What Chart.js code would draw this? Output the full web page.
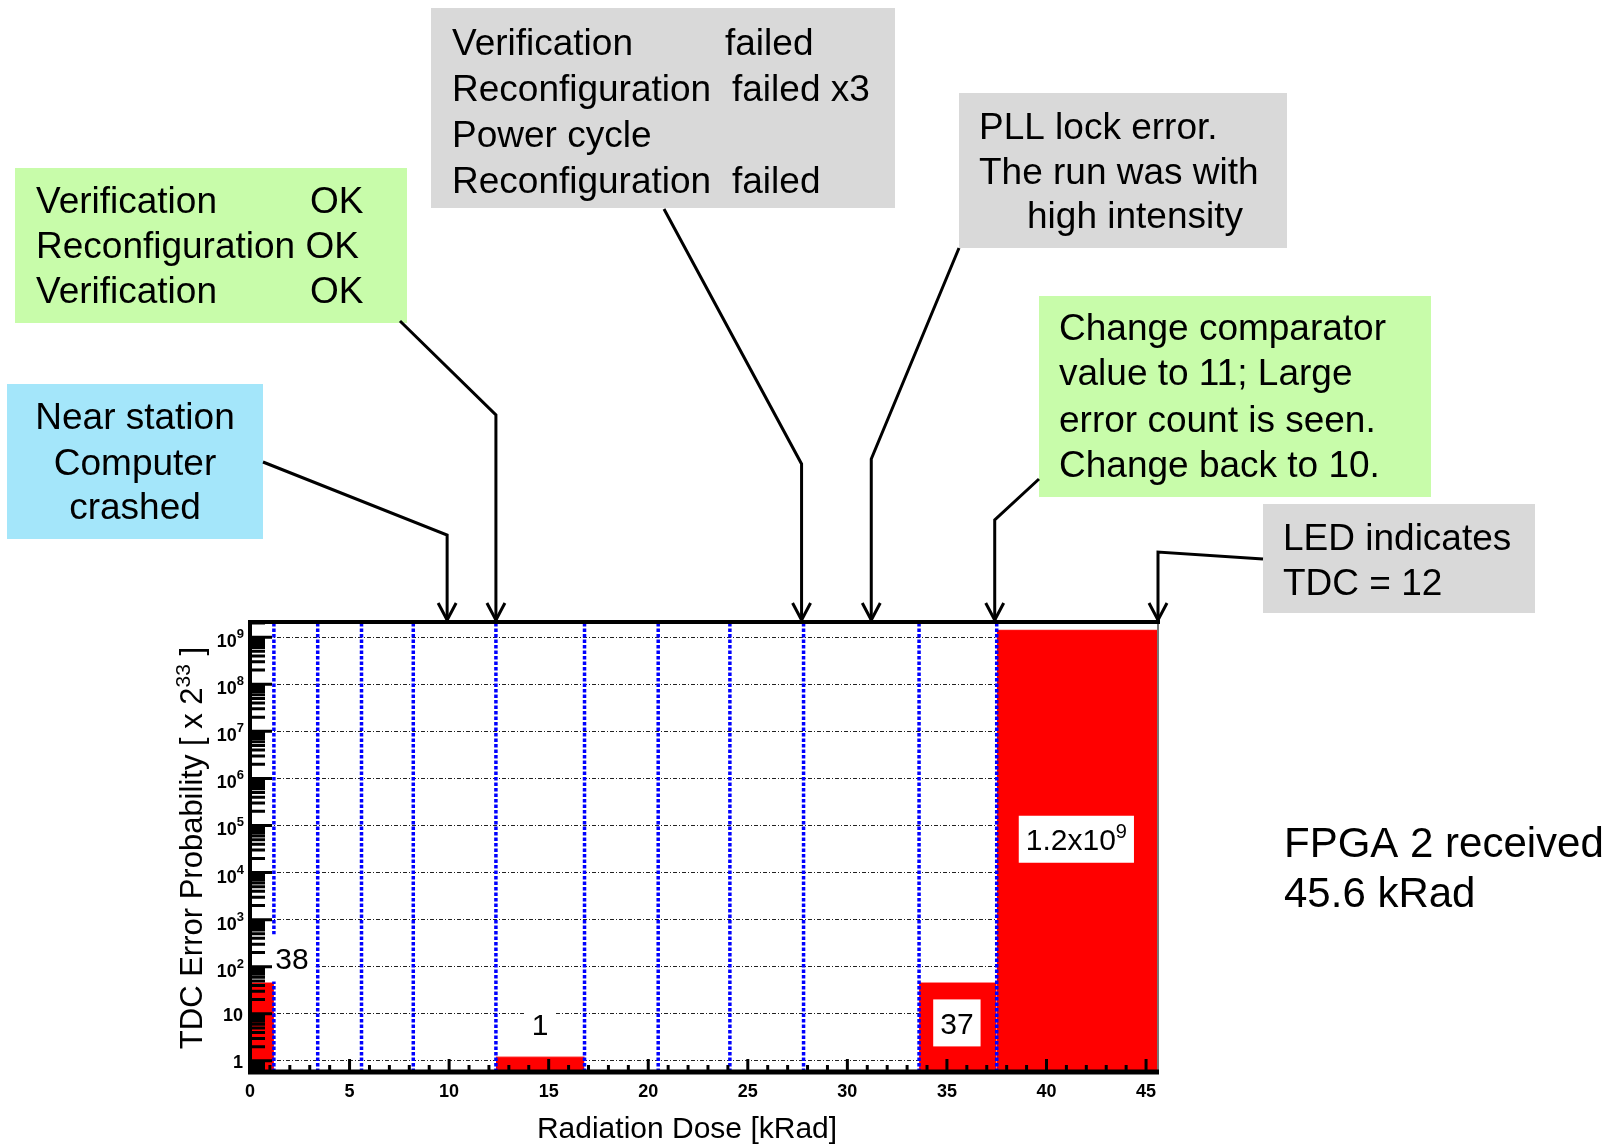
<!DOCTYPE html>
<html>
<head>
<meta charset="utf-8">
<script src="https://cdn.jsdelivr.net/npm/chart.js@4.4.1/dist/chart.umd.min.js"></script>
<style>
  html, body { margin: 0; padding: 0; background: #fff; }
  canvas { display: block; }
</style>
</head>
<body>
<canvas id="chart" width="1608" height="1144"></canvas>
<script>
// histogram bins: dose range [kRad] and error probability [x 2^33]
const binStart = [0, 12.35, 33.6, 37.5];
const binEnd = [1.2, 16.8, 37.5, 45.6];
const binValue = [45, 1.2, 45, 1.4e9];
const binText = ["38", "1", "37", "1.2x10^9"];

// run boundaries (blue dotted lines)
const runEdges = [1.2, 3.4, 5.6, 8.2, 12.35, 16.8, 20.5, 24.1, 27.8, 33.6, 37.5];

// doses where the annotated events happened (arrows)
const eventDose = [9.9, 12.35, 27.7, 31.2, 37.4, 45.6];

const xTickValues = [0, 5, 10, 15, 20, 25, 30, 35, 40, 45];
const yDecades = [1, 1e1, 1e2, 1e3, 1e4, 1e5, 1e6, 1e7, 1e8, 1e9];
const xMin = 0, xMax = 45.6, yMin = 0.58, yMax = 2.1e9;

const FONT = "'Liberation Sans', Arial, sans-serif";

// label placement inside the plot (dose, probability)
const labelSpots = [[2.11, 153], [14.57, 6.1], [35.5, 6.4], [41.5, 5.1e4]];

// annotation boxes
const notes = [
  { rect: [15, 168, 392, 155], fill: "#c8fcaa", texts: [
    ["Verification", 36, 213], ["OK", 310, 213],
    ["Reconfiguration OK", 36, 258],
    ["Verification", 36, 303], ["OK", 310, 303]] },
  { rect: [7, 384, 256, 155], fill: "#a4e6fa", center: 135, texts: [
    ["Near station", 0, 429], ["Computer", 0, 475], ["crashed", 0, 519]] },
  { rect: [431, 8, 464, 200], fill: "#d9d9d9", texts: [
    ["Verification", 452, 55], ["failed", 725, 55],
    ["Reconfiguration", 452, 101], ["failed x3", 732, 101],
    ["Power cycle", 452, 147],
    ["Reconfiguration", 452, 193], ["failed", 732, 193]] },
  { rect: [959, 93, 328, 155], fill: "#d9d9d9", texts: [
    ["PLL lock error.", 979, 139], ["The run was with", 979, 184], ["high intensity", 1027, 228]] },
  { rect: [1039, 296, 392, 201], fill: "#c8fcaa", texts: [
    ["Change comparator", 1059, 340], ["value to 11; Large", 1059, 385],
    ["error count is seen.", 1059, 432], ["Change back to 10.", 1059, 477]] },
  { rect: [1263, 504, 272, 109], fill: "#d9d9d9", texts: [
    ["LED indicates", 1283, 550], ["TDC = 12", 1283, 595]] }
];
// connector start (box edge) and elbow height for each arrow
const arrowFrom = [[263, 462], [400, 321], [664, 209], [959, 248], [1039, 479], [1263, 559]];
const arrowElbowY = [535, 415, 464, 459, 520, 552];

const datasets = [];
binStart.forEach((s, i) => {
  datasets.push({
    data: [{ x: s, y: binValue[i] }, { x: binEnd[i], y: binValue[i] }],
    borderColor: "#ff0000", backgroundColor: "#ff0000", borderWidth: 1,
    fill: "start", pointRadius: 0, order: 2
  });
});
runEdges.forEach(e => {
  datasets.push({
    data: [{ x: e, y: yMin }, { x: e, y: yMax }],
    borderColor: "#0000ff", borderWidth: 3.5, borderDash: [3.5, 2],
    fill: false, pointRadius: 0, order: 1
  });
});

function drawSup(ctx, base, sup, x, y, bf, sf, rise) {
  ctx.font = bf;
  ctx.fillText(base, x, y);
  const w = ctx.measureText(base).width;
  ctx.font = sf;
  ctx.fillText(sup, x + w, y - rise);
  return w + ctx.measureText(sup).width;
}
function supWidth(ctx, base, sup, bf, sf) {
  ctx.font = bf;
  const w = ctx.measureText(base).width;
  ctx.font = sf;
  return w + ctx.measureText(sup).width;
}

const decor = {
  id: "decor",
  afterDatasetsDraw(chart) {
    const { ctx, chartArea: a, scales: { x, y } } = chart;
    ctx.save();
    // value labels with white boxes
    ctx.textBaseline = "alphabetic";
    ctx.fillStyle = "#000";
    binText.forEach((t, i) => {
      const cx = x.getPixelForValue(labelSpots[i][0]);
      const cy = y.getPixelForValue(labelSpots[i][1]);
      const parts = t.split("^");
      const bf = "30px " + FONT, sf = "20px " + FONT;
      const w = parts.length > 1 ? supWidth(ctx, parts[0], parts[1], bf, sf) : (ctx.font = bf, ctx.measureText(t).width);
      ctx.fillStyle = "#fff";
      ctx.fillRect(cx - w / 2 - 7, cy - 23.5, w + 14, 47);
      ctx.fillStyle = "#000";
      if (parts.length > 1) drawSup(ctx, parts[0], parts[1], cx - w / 2, cy + 11, bf, sf, 12);
      else { ctx.font = bf; ctx.fillText(t, cx - w / 2, cy + 11); }
    });

    // inward ticks
    ctx.strokeStyle = "#000";
    ctx.lineWidth = 3;
    ctx.beginPath();
    for (let n = -1; n <= 9; n++) {
      for (let m = 1; m <= 9; m++) {
        const v = m * Math.pow(10, n);
        if (v < yMin || v > yMax) continue;
        const py = y.getPixelForValue(v);
        const len = m === 1 ? 22 : 15;
        ctx.moveTo(a.left, py);
        ctx.lineTo(a.left + len, py);
      }
    }
    for (let d = 1; d <= 45; d++) {
      const px = x.getPixelForValue(d);
      const len = d % 5 === 0 ? 13 : 7;
      ctx.moveTo(px, a.bottom);
      ctx.lineTo(px, a.bottom - len);
    }
    ctx.stroke();

    // frame
    ctx.lineWidth = 2;
    ctx.strokeStyle = "#777";
    ctx.beginPath();
    ctx.moveTo(a.right, a.top);
    ctx.lineTo(a.right, a.bottom);
    ctx.stroke();
    ctx.strokeStyle = "#000";
    ctx.lineWidth = 4;
    ctx.beginPath();
    ctx.moveTo(a.left - 2, a.top);
    ctx.lineTo(a.right + 2, a.top);
    ctx.moveTo(a.left, a.top);
    ctx.lineTo(a.left, a.bottom);
    ctx.stroke();
    ctx.lineWidth = 5;
    ctx.beginPath();
    ctx.moveTo(a.left - 2, a.bottom);
    ctx.lineTo(a.right + 1, a.bottom);
    ctx.stroke();
    ctx.restore();
  },
  afterDraw(chart) {
    const { ctx, chartArea: a, scales: { x, y } } = chart;
    ctx.save();
    ctx.fillStyle = "#000";
    ctx.textBaseline = "alphabetic";

    // y tick labels
    const bf = "bold 18px " + FONT, sf = "bold 13px " + FONT;
    yDecades.forEach((v, n) => {
      const py = y.getPixelForValue(v);
      if (n < 2) {
        ctx.font = bf;
        const t = n === 0 ? "1" : "10";
        ctx.fillText(t, 243 - ctx.measureText(t).width, py + 7);
      } else {
        const w = supWidth(ctx, "10", String(n), bf, sf);
        drawSup(ctx, "10", String(n), 244 - w, py + 10, bf, sf, 9);
      }
    });

    // axis titles
    ctx.font = "30px " + FONT;
    ctx.textAlign = "center";
    ctx.fillText("Radiation Dose [kRad]", 687, 1138);
    ctx.textAlign = "left";
    ctx.save();
    ctx.translate(202, 848);
    ctx.rotate(-Math.PI / 2);
    const tf = "31px " + FONT, tsf = "21px " + FONT;
    ctx.font = tf;
    const w1 = ctx.measureText("TDC Error Probability [ x 2").width;
    ctx.font = tsf;
    const w2 = ctx.measureText("33").width;
    ctx.font = tf;
    const w3 = ctx.measureText(" ]").width;
    let sx = -(w1 + w2 + w3) / 2;
    ctx.fillText("TDC Error Probability [ x 2", sx, 0);
    ctx.font = tsf;
    ctx.fillText("33", sx + w1, -12);
    ctx.font = tf;
    ctx.fillText(" ]", sx + w1 + w2, 0);
    ctx.restore();

    // annotation boxes
    notes.forEach(nt => {
      const [rx, ry, rw, rh] = nt.rect;
      ctx.fillStyle = nt.fill;
      ctx.fillRect(rx, ry, rw, rh);
      ctx.fillStyle = "#000";
      ctx.font = "37px " + FONT;
      nt.texts.forEach(([t, tx, ty]) => {
        if (nt.center) {
          ctx.textAlign = "center";
          ctx.fillText(t, nt.center, ty);
          ctx.textAlign = "left";
        } else ctx.fillText(t, tx, ty);
      });
    });

    // arrows
    ctx.strokeStyle = "#000";
    ctx.lineWidth = 3;
    ctx.lineJoin = "miter";
    const tipY = a.top - 2;
    eventDose.forEach((d, i) => {
      const px = x.getPixelForValue(d);
      ctx.beginPath();
      ctx.moveTo(arrowFrom[i][0], arrowFrom[i][1]);
      ctx.lineTo(px, arrowElbowY[i]);
      ctx.lineTo(px, tipY);
      ctx.stroke();
      ctx.beginPath();
      ctx.moveTo(px - 9, tipY - 17);
      ctx.lineTo(px, tipY);
      ctx.lineTo(px + 9, tipY - 17);
      ctx.stroke();
    });

    ctx.fillStyle = "#000";
    ctx.font = "42px " + FONT;
    ctx.fillText("FPGA 2 received", 1284, 857);
    ctx.fillText("45.6 kRad", 1284, 907);
    ctx.restore();
  }
};

new Chart(document.getElementById("chart"), {
  type: "line",
  data: { datasets: datasets },
  options: {
    responsive: false,
    animation: false,
    devicePixelRatio: 1,
    layout: { padding: { top: 622, right: 450, left: 0, bottom: 0 } },
    plugins: { legend: { display: false }, tooltip: { enabled: false } },
    elements: { line: { tension: 0 } },
    scales: {
      x: {
        type: "linear", min: xMin, max: xMax,
        afterBuildTicks: s => { s.ticks = xTickValues.map(v => ({ value: v })); },
        afterFit: s => { s.height = 72; },
        grid: { display: false },
        border: { display: false },
        ticks: { color: "#000", padding: 1, maxRotation: 0, autoSkip: false,
                 font: { family: FONT, size: 18, weight: "bold" } }
      },
      y: {
        type: "logarithmic", min: yMin, max: yMax,
        afterBuildTicks: s => { s.ticks = yDecades.map(v => ({ value: v })); },
        afterFit: s => { s.width = 250; },
        grid: { color: "#222", lineWidth: 1, drawTicks: false },
        border: { display: false, dash: [4, 2, 1, 2] },
        ticks: { display: false }
      }
    }
  },
  plugins: [decor]
});
</script>
</body>
</html>
